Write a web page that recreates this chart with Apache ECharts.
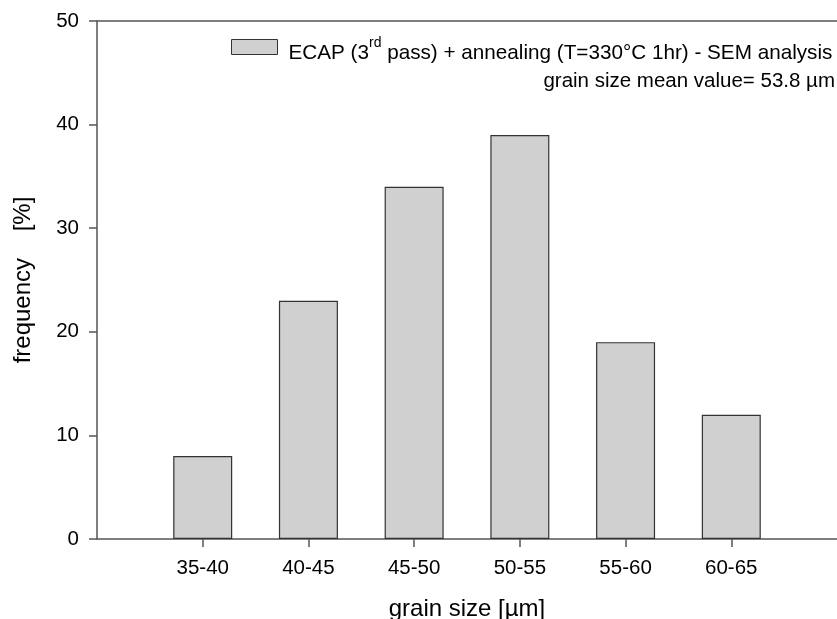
<!DOCTYPE html>
<html>
<head>
<meta charset="utf-8">
<script src="https://cdn.jsdelivr.net/npm/echarts@6/dist/echarts.min.js"></script>
<style>html,body{margin:0;padding:0;background:#fff}#c{width:837px;height:619px}</style>
</head>
<body>
<div id="c"></div>
<script>
const categories = ['', '35-40', '40-45', '45-50', '50-55', '55-60', '60-65', ''];
const frequency = ['-', 8, 23, 34, 39, 19, 12, '-'];
const yTicks = { min: 0, max: 50, interval: 10 };
const seriesName = 'ECAP';
const legendLabel = '{a|ECAP (3}{s|rd}{a| pass) + annealing (T=330°C 1hr) - SEM analysis}';
const meanLabel = 'grain size mean value= 53.8 µm';
const xName = 'grain size [µm]';
const yName = 'frequency    [%]';

const FONT = '"Liberation Sans", Arial, sans-serif';
const chart = echarts.init(document.getElementById('c'), null, { renderer: 'canvas' });
const axisLineStyle = { color: '#555', width: 1.5 };
chart.setOption({
  animation: false,
  backgroundColor: '#fff',
  textStyle: { fontFamily: FONT, color: '#000' },
  grid: { left: 97, right: 0, top: 21, bottom: 80, containLabel: false, outerBoundsMode: 'none' },
  legend: {
    data: [seriesName],
    left: 231, top: 36,
    padding: 0,
    itemWidth: 46, itemHeight: 15,
    icon: 'rect',
    itemStyle: { color: '#d0d0d0', borderColor: '#333', borderWidth: 1 },
    formatter: () => legendLabel,
    textStyle: {
      padding: [6, 0, 0, 6],
      rich: {
        a: { fontFamily: FONT, fontSize: 20.7, color: '#000', lineHeight: 28, verticalAlign: 'bottom' },
        s: { fontFamily: FONT, fontSize: 14, color: '#000', lineHeight: 28, verticalAlign: 'top' }
      }
    }
  },
  graphic: [{
    type: 'text', right: 2, top: 71,
    style: { text: meanLabel, font: '20.5px "Liberation Sans", Arial, sans-serif', fill: '#000' }
  }],
  xAxis: [{
    type: 'category',
    data: categories,
    boundaryGap: false,
    name: xName,
    nameLocation: 'middle',
    nameGap: 58,
    nameTextStyle: { fontFamily: FONT, fontSize: 24, color: '#000' },
    axisLine: { lineStyle: axisLineStyle },
    axisTick: { show: true, inside: false, length: 8, lineStyle: axisLineStyle,
                interval: (i, v) => v !== '' },
    axisLabel: { interval: 0, margin: 19, fontSize: 20.5, fontFamily: FONT, color: '#000' },
    splitLine: { show: false }
  }, {
    type: 'category',
    data: categories,
    boundaryGap: false,
    position: 'top',
    axisLine: { lineStyle: axisLineStyle },
    axisTick: { show: false },
    axisLabel: { show: false },
    splitLine: { show: false }
  }],
  yAxis: {
    type: 'value',
    min: yTicks.min, max: yTicks.max, interval: yTicks.interval,
    name: yName,
    nameLocation: 'middle',
    nameGap: 62,
    nameTextStyle: { fontFamily: FONT, fontSize: 24, color: '#000' },
    axisLine: { show: true, lineStyle: axisLineStyle },
    axisTick: { show: true, inside: false, length: 8, lineStyle: axisLineStyle },
    axisLabel: { margin: 18, fontSize: 20.5, fontFamily: FONT, color: '#000' },
    splitLine: { show: false }
  },
  series: [{
    name: seriesName,
    type: 'bar',
    xAxisIndex: 0,
    data: frequency,
    barWidth: 59,
    itemStyle: { color: '#d0d0d0', borderColor: '#333', borderWidth: 1.2 }
  }]
});
</script>
</body>
</html>
